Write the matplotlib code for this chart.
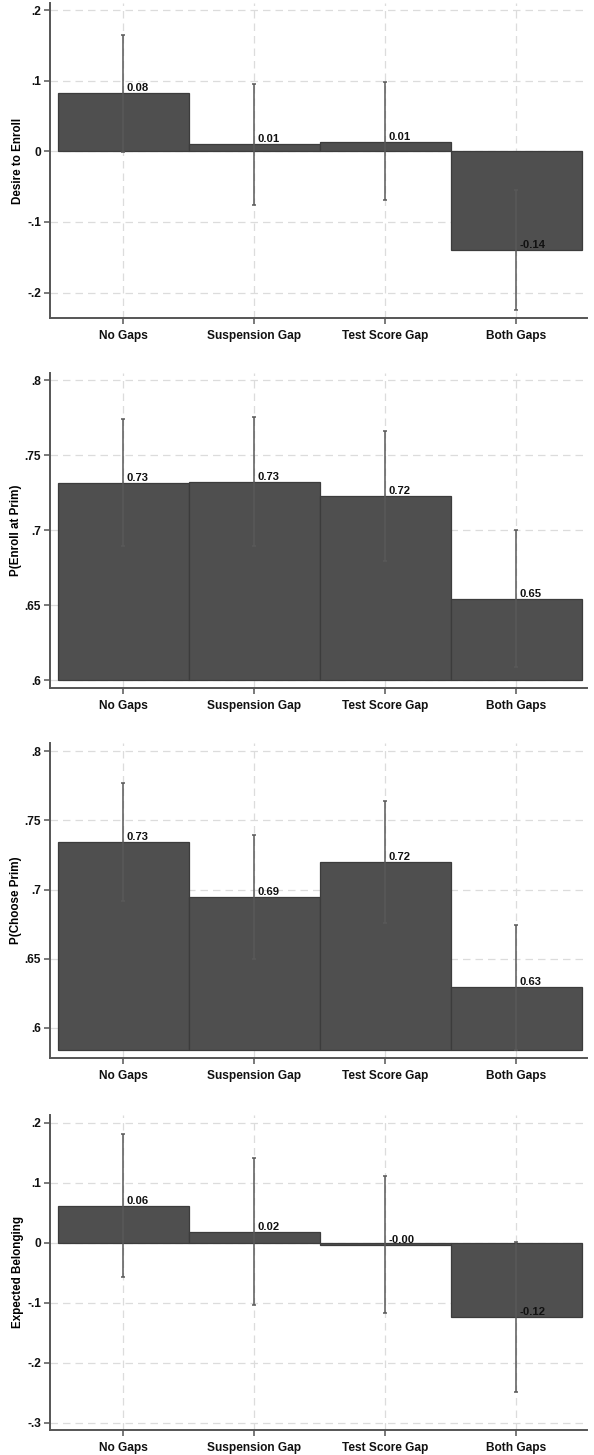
import matplotlib
matplotlib.use('Agg')
import matplotlib.pyplot as plt

plt.rcParams['font.family'] = ['Liberation Sans', 'DejaVu Sans']

groups = ['No Gaps', 'Suspension Gap', 'Test Score Gap', 'Both Gaps']
xpos = [1, 2, 3, 4]

# Desire to Enroll
enroll_mean = [0.082, 0.010, 0.0136, -0.140]
enroll_lo = [-0.001, -0.076, -0.069, -0.225]
enroll_hi = [0.165, 0.096, 0.098, -0.055]

# P(Enroll at Prim)
penroll_mean = [0.7318, 0.7325, 0.7229, 0.6543]
penroll_lo = [0.6895, 0.6895, 0.6795, 0.6088]
penroll_hi = [0.7746, 0.7757, 0.7662, 0.700]

# P(Choose Prim)
pchoose_mean = [0.7343, 0.6945, 0.7201, 0.6294]
pchoose_lo = [0.6917, 0.650, 0.6762, 0.584]
pchoose_hi = [0.7772, 0.7393, 0.7639, 0.6746]

# Expected Belonging
belong_mean = [0.0618, 0.0184, -0.003, -0.123]
belong_lo = [-0.0573, -0.1035, -0.1174, -0.248]
belong_hi = [0.1815, 0.142, 0.1107, 0.002]

panels = [
    ('Desire to Enroll', enroll_mean, enroll_lo, enroll_hi, 0.0,
     (-0.236, 0.21), [-0.2, -0.1, 0, 0.1, 0.2], ['-.2', '-.1', '0', '.1', '.2']),
    ('P(Enroll at Prim)', penroll_mean, penroll_lo, penroll_hi, 0.6,
     (0.5949, 0.805), [0.6, 0.65, 0.7, 0.75, 0.8], ['.6', '.65', '.7', '.75', '.8']),
    ('P(Choose Prim)', pchoose_mean, pchoose_lo, pchoose_hi, 0.5838,
     (0.5783, 0.806), [0.6, 0.65, 0.7, 0.75, 0.8], ['.6', '.65', '.7', '.75', '.8']),
    ('Expected Belonging', belong_mean, belong_lo, belong_hi, 0.0,
     (-0.312, 0.213), [-0.3, -0.2, -0.1, 0, 0.1, 0.2],
     ['-.3', '-.2', '-.1', '0', '.1', '.2']),
]

W, H = 594, 1455
fig = plt.figure(figsize=(W / 100, H / 100), dpi=100)
tops = [3, 373, 743, 1115]
ph = 315

spine_col = '#555555'
bar_col = '#4f4f4f'
err_col = '#595959'

for (ylab, mean, lo, hi, base, ylim, yt, ytl), top in zip(panels, tops):
    ax = fig.add_axes([50 / W, (H - top - ph) / H, 537 / W, ph / H])
    heights = [m - base for m in mean]
    ax.bar(xpos, heights, width=1.0, bottom=base, color=bar_col,
           edgecolor='#3c3c3c', linewidth=0.9, zorder=2)
    yerr = [[m - l for m, l in zip(mean, lo)], [h - m for m, h in zip(mean, hi)]]
    ax.errorbar(xpos, mean, yerr=yerr, fmt='none', ecolor=err_col,
                elinewidth=1.1, capsize=1.6, capthick=1.1, zorder=3)
    for x, m in zip(xpos, mean):
        ax.annotate(f'{m:.2f}', (x, m), xytext=(2, 0), textcoords='offset points',
                    ha='left', va='bottom', fontsize=8.1, fontweight='bold',
                    color='#111111', zorder=4)
    ax.set_xlim(0.44, 4.54)
    ax.set_ylim(*ylim)
    ax.set_xticks(xpos)
    ax.set_xticklabels(groups, fontsize=8.6, fontweight='bold')
    ax.set_yticks(yt)
    ax.set_yticklabels(ytl, fontsize=8.6, fontweight='bold')
    ax.set_ylabel(ylab, fontsize=8.4, fontweight='bold', labelpad=2)
    ax.grid(True, color='#dcdcdc', linestyle=(0, (6, 4)), linewidth=0.9, zorder=0)
    ax.set_axisbelow(True)
    for s in ['top', 'right']:
        ax.spines[s].set_visible(False)
    for s in ['left', 'bottom']:
        ax.spines[s].set_color(spine_col)
        ax.spines[s].set_linewidth(1.4)
    ax.tick_params(axis='both', length=4.5, width=1.1, color=spine_col,
                   colors='#111111', pad=2)
    ax.tick_params(axis='x', pad=4)

fig.savefig('out.png', dpi=100)
